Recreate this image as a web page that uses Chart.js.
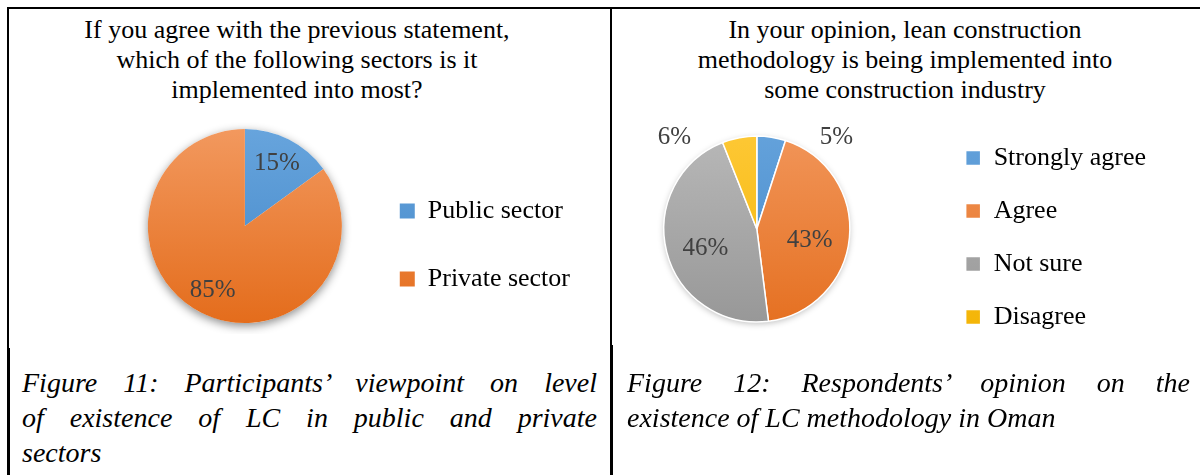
<!DOCTYPE html>
<html>
<head>
<meta charset="utf-8">
<script src="https://cdn.jsdelivr.net/npm/chart.js@4.4.1/dist/chart.umd.min.js"></script>
<style>
    body { margin: 0; width: 1202px; height: 475px; overflow: hidden; background: #fff; position: relative;
           font-family: "Liberation Serif", "Times New Roman", serif; color: #000; }
    .line { position: absolute; background: #000; z-index: 5; }
    .title { position: absolute; top: 15px; text-align: center; font-size: 26px; line-height: 30px; }
    .cap { position: absolute; top: 365px; font-style: italic; font-size: 28px; line-height: 35px; }
    .cap .j { text-align: justify; text-align-last: justify; }
    canvas { position: absolute; }
</style>
</head>
<body>

<div class="line" style="left:7px; top:7px; width:1193px; height:2px;"></div>
<div class="line" style="left:7px; top:7px; width:2px; height:470px;"></div>
<div class="line" style="left:7px; top:348px; width:3px; height:130px;"></div>
<div class="line" style="left:610px; top:7px; width:2px; height:470px;"></div>
<div class="line" style="left:610px; top:345px; width:3px; height:130px;"></div>

<div class="title" style="left:8px; width:578px;">
    If you agree with the previous statement,<br>which of the following sectors is it<br>implemented into most?
</div>
<div class="title" style="left:612px; width:586px;">
    In your opinion, lean construction<br>methodology is being implemented into<br>some construction industry
</div>

<canvas id="sectorChart" width="476" height="216" style="left:132px; top:118px;"></canvas>
<canvas id="opinionChart" width="627" height="256" style="left:575px; top:101px;"></canvas>

<div class="cap" style="left:22px; width:575px;">
    <div class="j">Figure 11: Participants’ viewpoint on level</div>
    <div class="j">of existence of LC in public and private</div>
    <div>sectors</div>
</div>
<div class="cap" style="left:627px; width:563px;">
    <div class="j">Figure 12: Respondents’ opinion on the</div>
    <div>existence of LC methodology in Oman</div>
</div>

<script>
// Figure 11
const sectorLabels = ['Public sector', 'Private sector'];
const sectorValues = [15, 85];

// Figure 12
const opinionLabels = ['Strongly agree', 'Agree', 'Not sure', 'Disagree'];
const opinionValues = [5, 43, 46, 6];

// office-like slice colours, lighter at the top
const blue = ['#69a6de', '#3f84c6'];
const orange = ['#f39b62', '#e36a18'];
const grey = ['#bdbdbd', '#929292'];
const gold = ['#ffcb3c', '#f2b200'];

function shaded(pairs) {
    return (ctx) => {
        const pair = pairs[ctx.dataIndex % pairs.length];
        const area = ctx.chart.chartArea;
        if (!area) return pair[1];
        const g = ctx.chart.ctx.createLinearGradient(0, area.top, 0, area.bottom);
        g.addColorStop(0, pair[0]);
        g.addColorStop(1, pair[1]);
        return g;
    };
}

// soft drop shadow drawn behind the pie
const pieShadow = {
    id: 'pieShadow',
    beforeDatasetsDraw(chart, args, opts) {
        const arc = chart.getDatasetMeta(0).data[0];
        if (!arc) return;
        const ctx = chart.ctx;
        ctx.save();
        ctx.shadowColor = opts.color;
        ctx.shadowBlur = opts.blur;
        ctx.shadowOffsetY = opts.offsetY;
        ctx.beginPath();
        ctx.arc(arc.x, arc.y, arc.outerRadius, 0, Math.PI * 2);
        ctx.fillStyle = '#fff';
        ctx.fill();
        ctx.restore();
    }
};

// percentage labels: inside the slice, or beside the rim for thin slices
const pctLabels = {
    id: 'pctLabels',
    afterDatasetsDraw(chart, args, opts) {
        const ctx = chart.ctx;
        const values = chart.data.datasets[0].data;
        const total = values.reduce((a, b) => a + b, 0);
        ctx.save();
        ctx.font = '25px "Liberation Serif", serif';
        ctx.fillStyle = '#404040';
        ctx.textAlign = 'center';
        ctx.textBaseline = 'middle';
        chart.getDatasetMeta(0).data.forEach((arc, i) => {
            const mid = (arc.startAngle + arc.endAngle) / 2;
            const r = arc.outerRadius;
            let x, y;
            if (values[i] < opts.outsideBelow) {
                x = arc.x + Math.cos(mid) * r + Math.sign(Math.cos(mid)) * r * 0.7;
                y = arc.y + Math.sin(mid) * r;
            } else {
                x = arc.x + Math.cos(mid) * r * opts.inside;
                y = arc.y + Math.sin(mid) * r * opts.inside + opts.drop;
            }
            ctx.fillText(Math.round(values[i] / total * 100) + '%', x, y);
        });
        ctx.restore();
    }
};

function pieOptions(radius, rightPad, labelPad, labelOpts, shadow) {
    return {
        responsive: false,
        animation: false,
        radius: radius,
        layout: { padding: { right: rightPad } },
        plugins: {
            tooltip: { enabled: false },
            title: { display: false },
            legend: {
                position: 'right',
                align: 'end',
                labels: {
                    boxWidth: 15,
                    boxHeight: 15,
                    padding: labelPad,
                    color: '#000',
                    font: { family: '"Liberation Serif", serif', size: 26 }
                }
            },
            pctLabels: labelOpts,
            pieShadow: shadow
        }
    };
}

new Chart(document.getElementById('sectorChart'), {
    type: 'pie',
    data: {
        labels: sectorLabels,
        datasets: [{
            data: sectorValues,
            backgroundColor: shaded([blue, orange]),
            borderWidth: 0
        }]
    },
    options: pieOptions(97, 28, 42, { inside: 0.73, outsideBelow: 10, drop: 1 },
        { color: 'rgba(0,0,0,0.45)', blur: 10, offsetY: 3 }),
    plugins: [pieShadow, pctLabels]
});

new Chart(document.getElementById('opinionChart'), {
    type: 'pie',
    data: {
        labels: opinionLabels,
        datasets: [{
            data: opinionValues,
            backgroundColor: shaded([blue, orange, grey, gold]),
            borderColor: '#fff',
            borderWidth: 1.5
        }]
    },
    options: pieOptions(93, 46, 27, { inside: 0.57, outsideBelow: 10, drop: 6 },
        { color: 'rgba(0,0,0,0.25)', blur: 6, offsetY: 2 }),
    plugins: [pieShadow, pctLabels]
});
</script>
</body>
</html>
